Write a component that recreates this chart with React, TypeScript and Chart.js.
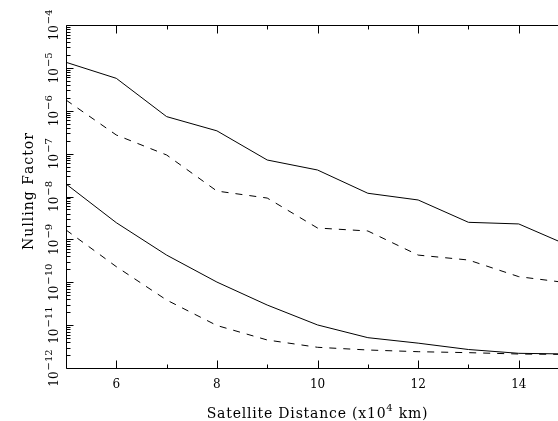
import React, { useEffect, useRef } from 'react';
import { Chart, registerables } from 'chart.js';

Chart.register(...registerables);

// Satellite distance (x10^4 km)
const distances = [5, 6, 7, 8, 9, 10, 11, 12, 13, 14, 15];
const solidUpper = [1.35e-5, 5.7e-6, 7.3e-7, 3.4e-7, 7.1e-8, 4.15e-8, 1.19e-8, 8.3e-9, 2.5e-9, 2.29e-9, 7.1e-10];
const dashedUpper = [1.78e-6, 2.72e-7, 9.3e-8, 1.34e-8, 9.2e-9, 1.84e-9, 1.57e-9, 4.3e-10, 3.3e-10, 1.35e-10, 9.6e-11];
const solidLower = [1.96e-8, 2.45e-9, 4.3e-10, 1.01e-10, 2.94e-11, 1.01e-11, 5.1e-12, 3.8e-12, 2.7e-12, 2.2e-12, 2.12e-12];
const dashedLower = [1.66e-9, 2.31e-10, 3.85e-11, 9.8e-12, 4.5e-12, 3.04e-12, 2.63e-12, 2.4e-12, 2.28e-12, 2.12e-12, 2.07e-12];

const xMajorTicks = [6, 8, 10, 12, 14];
const xMinorTicks = [7, 9, 11, 13];
const yExponents = [-12, -11, -10, -9, -8, -7, -6, -5, -4];
const xTitleMain = 'Satellite Distance (x10';
const xTitleSup = '4';
const xTitleEnd = ' km)';
const yTitle = 'Nulling Factor';

const FONT = '"DejaVu Serif", serif';

function spacedWidth(ctx: any, s: string, spacing: number) {
  let w = 0;
  for (const ch of s) w += ctx.measureText(ch).width + spacing;
  return w;
}
function drawSpaced(ctx: any, s: string, x: number, y: number, spacing: number) {
  let cx = x;
  for (const ch of s) {
    ctx.fillText(ch, cx, y);
    cx += ctx.measureText(ch).width + spacing;
  }
  return cx;
}

const framePlugin = {
  id: 'pgFrame',
  afterDraw(chart: any) {
    const { ctx, chartArea, scales } = chart;
    const xs = scales.x;
    const ys = scales.y;
    const L = Math.round(chartArea.left) + 0.5;
    const T = Math.round(chartArea.top) + 0.5;
    const B = Math.round(chartArea.bottom) + 0.5;
    const R = chartArea.right + 2;
    ctx.save();
    ctx.strokeStyle = '#000';
    ctx.lineWidth = 1;
    ctx.setLineDash([]);
    ctx.beginPath();
    ctx.moveTo(R, T); ctx.lineTo(L, T); ctx.lineTo(L, B); ctx.lineTo(R, B);
    const xt = (v: number, len: number) => {
      const px = Math.round(xs.getPixelForValue(v)) + 0.5;
      ctx.moveTo(px, B); ctx.lineTo(px, B - len);
      ctx.moveTo(px, T); ctx.lineTo(px, T + len);
    };
    xMajorTicks.forEach((v) => xt(v, 8));
    xMinorTicks.forEach((v) => xt(v, 4));
    yExponents.forEach((e, i) => {
      const py = Math.round(ys.getPixelForValue(Math.pow(10, e))) + 0.5;
      ctx.moveTo(L, py); ctx.lineTo(L + 7, py);
      if (i < yExponents.length - 1) {
        for (let m = 2; m <= 9; m++) {
          const p = Math.round(ys.getPixelForValue(m * Math.pow(10, e))) + 0.5;
          ctx.moveTo(L, p); ctx.lineTo(L + 4, p);
        }
      }
    });
    ctx.stroke();

    ctx.fillStyle = '#000';
    ctx.font = `12px ${FONT}`;
    ctx.textAlign = 'center';
    ctx.textBaseline = 'alphabetic';
    xMajorTicks.forEach((v) => {
      ctx.fillText(String(v), xs.getPixelForValue(v), 388);
    });
    yExponents.forEach((e) => {
      const py = ys.getPixelForValue(Math.pow(10, e));
      const base = '10';
      const sup = '\u2212' + String(Math.abs(e));
      ctx.font = `12px ${FONT}`;
      const wb = ctx.measureText(base).width;
      ctx.font = `10px ${FONT}`;
      const ws = ctx.measureText(sup).width;
      const total = wb + ws + 1;
      ctx.save();
      ctx.translate(58, py);
      ctx.rotate(-Math.PI / 2);
      ctx.textAlign = 'left';
      ctx.font = `12px ${FONT}`;
      ctx.fillText(base, -total / 2, 0);
      ctx.font = `10px ${FONT}`;
      ctx.fillText(sup, -total / 2 + wb + 1, -6);
      ctx.restore();
    });
    // x title
    const sp = 0.8;
    ctx.textAlign = 'left';
    ctx.font = `14px ${FONT}`;
    const w1 = spacedWidth(ctx, xTitleMain, sp);
    const w3 = spacedWidth(ctx, xTitleEnd, sp);
    ctx.font = `10px ${FONT}`;
    const w2 = spacedWidth(ctx, xTitleSup, sp);
    const tw = w1 + w2 + w3;
    const cx = xs.getPixelForValue(10);
    const sx = cx - tw / 2;
    ctx.font = `14px ${FONT}`;
    drawSpaced(ctx, xTitleMain, sx, 418, sp);
    ctx.font = `10px ${FONT}`;
    drawSpaced(ctx, xTitleSup, sx + w1, 411, sp);
    ctx.font = `14px ${FONT}`;
    drawSpaced(ctx, xTitleEnd, sx + w1 + w2, 418, sp);
    // y title
    ctx.save();
    ctx.translate(33, 191);
    ctx.rotate(-Math.PI / 2);
    ctx.font = `14px ${FONT}`;
    const wy = spacedWidth(ctx, yTitle, 1);
    drawSpaced(ctx, yTitle, -wy / 2, 0, 1);
    ctx.restore();
    ctx.restore();
  },
};

function toPoints(vals: number[]) {
  return distances.map((d, i) => ({ x: d, y: vals[i] }));
}

export default function App() {
  const ref = useRef<HTMLCanvasElement | null>(null);
  useEffect(() => {
    if (!ref.current) return;
    const line = (vals: number[], dash: number[]) => ({
      data: toPoints(vals),
      borderColor: '#000',
      borderWidth: 1,
      borderDash: dash,
      pointRadius: 0,
      tension: 0,
      fill: false,
    });
    const chart = new Chart(ref.current, {
      type: 'line',
      data: {
        datasets: [
          line(solidUpper, []),
          line(dashedUpper, [7, 7]),
          line(solidLower, []),
          line(dashedLower, [7, 7]),
        ],
      },
      options: {
        responsive: false,
        animation: false,
        devicePixelRatio: 1,
        layout: { padding: { left: 66, top: 25, right: 0, bottom: 53 } },
        scales: {
          x: { type: 'linear', min: 5, max: 14.78, display: false },
          y: { type: 'logarithmic', min: 1e-12, max: 1e-4, display: false },
        },
        plugins: { legend: { display: false }, tooltip: { enabled: false } },
      },
      plugins: [framePlugin],
    } as any);
    return () => chart.destroy();
  }, []);
  return (
    <div style={{ position: 'absolute', left: 0, top: 0, width: 558, height: 421, background: '#fff' }}>
      <canvas ref={ref} width={558} height={421} style={{ display: 'block' }} />
    </div>
  );
}
